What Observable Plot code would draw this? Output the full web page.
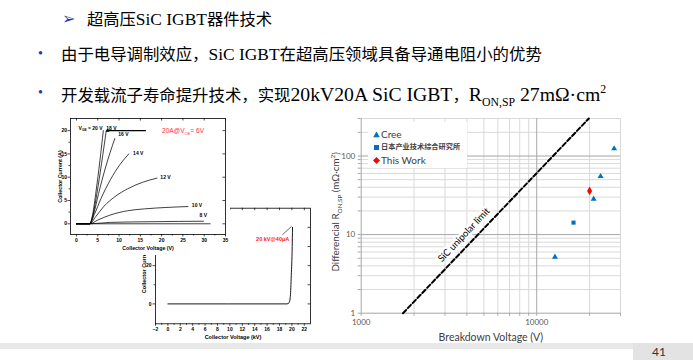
<!DOCTYPE html>
<html><head><meta charset="utf-8">
<script src="https://cdn.jsdelivr.net/npm/d3@7"></script>
<script src="https://cdn.jsdelivr.net/npm/@observablehq/plot@0.6"></script>
<style>
body{margin:0;background:#fff;}
#page{position:relative;width:693px;height:360px;overflow:hidden;background:#fff;font-family:"Liberation Serif","Noto Sans CJK SC",serif;}
.h{position:absolute;white-space:nowrap;line-height:1;color:#000;font-size:16.4px;}
.h .l{font-size:17.4px;}
.h .l2{font-size:19.7px;}
.h sub,.h sup{font-size:60%;line-height:0;}
.lg{position:absolute;white-space:nowrap;font-family:Lato,"Noto Sans CJK SC",sans-serif;color:#404040;line-height:1;}
</style></head>
<body><div id="page">
<div class="h" style="left:62px;top:11px;font-size:16px;color:#1c3ca8;font-family:'DejaVu Sans'">➢</div>
<div class="h" style="left:87px;top:11px;font-size:16.3px">超高压<span class="l">SiC IGBT</span>器件技术</div>
<div class="h" style="left:38px;top:47px;font-size:14px;color:#1c3ca8">•</div>
<div class="h" style="left:61px;top:46px">由于电导调制效应，<span class="l">SiC IGBT</span>在超高压领域具备导通电阻小的优势</div>
<div class="h" style="left:38px;top:86px;font-size:14px;color:#1c3ca8">•</div>
<div class="h" style="left:61px;top:85px">开发载流子寿命提升技术，实现<span class="l2">20kV20A SiC IGBT</span>，<span class="l2">R<sub>ON,SP</sub> 27mΩ·cm<sup>2</sup></span></div>
<div style="position:absolute;left:0;top:343px;width:633px;height:6px;background:#e8e8e8"></div>
<div style="position:absolute;left:633px;top:343px;width:60px;height:17px;background:#e3e3e3"></div>
<div class="h" style="left:652px;top:346px;font-size:12px;color:#333;font-family:Lato,sans-serif">41</div>
</div>
<script>
// ---------- right chart data ----------
const xMajor = [1000, 10000];
const xMinor = [2000, 3000, 4000, 5000, 6000, 7000, 8000, 9000, 20000, 30000];
const yMajor = [1, 10, 100];
const yMinor = [2, 3, 4, 5, 6, 7, 8, 9, 20, 30, 40, 50, 60, 70, 80, 90, 200, 300];
const creeBV = [12700, 21100, 23100, 27600];
const creeR = [5.2, 28.4, 55, 124];
const aistBV = [16200];
const aistR = [14.2];
const thisBV = [20000];
const thisR = [36];
const limitBV = [1730, 19800];
const limitR = [1, 300];
const limitLabelBV = [3850];
const limitLabelR = [9.9];
const seriesNames = ["Cree", "日本产业技术综合研究所", "This Work"];

// ---------- inset A (output characteristics) ----------
const vge20 = [[0,0],[3.1,0],[3.8,2],[4.6,7],[5.5,13.5],[6.3,20]];
const vge18 = [[0,0],[3.1,0],[3.9,2],[4.8,6.5],[5.9,13],[7.0,20]];
const vge16 = [[0,0],[3.1,0],[4.0,2],[5.2,6.5],[6.8,12],[9.0,18.3]];
const vge14 = [[0,0],[3.1,0],[4.2,2],[5.8,5.5],[8.0,9.5],[10.2,12.7],[12.3,15]];
const vge12 = [[0,0],[3.1,0],[4.5,1.5],[6.5,3.8],[9,5.8],[12,7.5],[15.5,8.9],[18.9,9.8]];
const vge10 = [[0,0],[3.1,0],[5,0.8],[8,1.9],[12,2.8],[16,3.2],[21,3.5],[26.2,3.7]];
const vge8 = [[0,0],[3.1,0],[8,0.3],[18,0.45],[29.8,0.55]];
const vge6 = [[0,0],[31.4,0]];
const ref20A = [[7.3,20],[16.2,20]];
const aLabels = [
  {v:0.5, i:20.5, t:"V_{GE} = 20 V"}, {v:7.0, i:20.4, t:"18 V"}, {v:9.8, i:19.1, t:"16 V"},
  {v:13.3, i:15.2, t:"14 V"}, {v:19.7, i:10.0, t:"12 V"}, {v:27.1, i:3.9, t:"10 V"}, {v:28.9, i:1.8, t:"8 V"}
];
const aNote = [{v:20.1, i:20, t:"20A@V_{CE}= 6V"}];
const aTicksX = [0,5,10,15,20,25,30,35];
const aMinorX = [2.5,7.5,12.5,17.5,22.5,27.5,32.5];
const aTicksY = [0,5,10,15,20];
const aMinorY = [2.5,7.5,12.5,17.5];

// ---------- inset B (blocking) ----------
const bvCurve = [[0,0],[19.2,0],[19.55,0.6],[19.75,4],[19.9,15],[20.05,30],[20.1,40]];
const bNote = [{v:16.9, i:34, t:"20 kV@40μA"}];
const bLeader = [[18.5,36.2],[19.9,40.4]];
const bTicksX = [-2,0,2,4,6,8,10,12,14,16,18,20,22];
const bMinorX = [-1,1,3,5,7,9,11,13,15,17,19,21];
const bTicksY = [0,20,40];
const bMinorY = [10,30];

const page = document.getElementById("page");

function rich(root){
  const ns = "http://www.w3.org/2000/svg";
  root.querySelectorAll("text").forEach(t => {
    const s = t.textContent;
    if (!/[_^]\{/.test(s)) return;
    const fs = parseFloat(getComputedStyle(t).fontSize) || 10;
    while (t.firstChild) t.removeChild(t.firstChild);
    const re = /([_^])\{([^}]*)\}/g; let last = 0, m, pend = 0;
    const add = (txt, dy, small) => {
      const sp = document.createElementNS(ns, "tspan");
      sp.textContent = txt;
      if (dy) sp.setAttribute("dy", dy);
      if (small) sp.setAttribute("font-size", (fs * 0.65).toFixed(2));
      t.appendChild(sp);
    };
    while ((m = re.exec(s))) {
      if (m.index > last) { add(s.slice(last, m.index), pend); pend = 0; }
      const d = m[1] === "_" ? fs * 0.28 : -fs * 0.4;
      add(m[2], d + pend, true); pend = -d;
      last = re.lastIndex;
    }
    if (last < s.length) add(s.slice(last), pend);
  });
}
function place(el, left, top){
  el.style.position = "absolute"; el.style.left = left + "px"; el.style.top = top + "px";
  page.appendChild(el); rich(el);
}
const pts = (arr, g) => arr.map(([v,i]) => ({v, i, g}));
const title = {textAnchor:"middle", lineAnchor:"middle"};

// ---------- inset B ----------
const bFont = {fontFamily:"'Liberation Sans', Arial, sans-serif", fontSize:"5px", fontWeight:"bold", background:"transparent", color:"#000", overflow:"visible"};
const B = Plot.plot({
  width:183, height:145, marginLeft:25, marginRight:3, marginTop:7.7, marginBottom:21.7,
  style: bFont,
  x:{domain:[-2,23]}, y:{domain:[-10.4,50]},
  marks:[
    Plot.frame({stroke:"#000", strokeWidth:0.8}),
    Plot.axisX({ticks:bTicksX, tickSize:2.5, tickPadding:1.5, label:null, strokeWidth:0.7}),
    Plot.axisX({ticks:bMinorX, tickSize:1.5, tickFormat:()=>"", label:null, strokeWidth:0.7}),
    Plot.axisY({ticks:bTicksY, tickSize:2.5, tickPadding:1.5, label:null, strokeWidth:0.7}),
    Plot.axisY({ticks:bMinorY, tickSize:1.5, tickFormat:()=>"", label:null, strokeWidth:0.7}),
    Plot.ruleX(bTicksX, {y1:50, y2:48.7, stroke:"#000", strokeWidth:0.7}),
    Plot.ruleY([...bTicksY, ...bMinorY], {x1:23, x2:22.6, stroke:"#000", strokeWidth:0.7}),
    Plot.line(pts(bvCurve,"b"), {x:"v", y:"i", stroke:"#000", strokeWidth:0.9, curve:"monotone-x"}),
    Plot.line(pts(bLeader,"l"), {x:"v", y:"i", stroke:"#000", strokeWidth:0.6}),
    Plot.text(bNote, {x:"v", y:"i", text:"t", fill:"#ff2020", fontSize:5.5}),
    Plot.text(["Collector Voltage (kV)"], {...title, frameAnchor:"bottom", dy:13.4, fontSize:5.5}),
    Plot.text(["Collector Current (A)"], {...title, frameAnchor:"left", dx:-11, dy:0, rotate:-90, fontSize:5.5})
  ]
});
place(B, 130, 200);

// ---------- inset A ----------
const A = Plot.plot({
  width:175, height:141, marginLeft:15, marginRight:5, marginTop:4, marginBottom:21,
  style:{...bFont, background:"white"},
  x:{domain:[-1.4,35]}, y:{domain:[-2.3,22.6]},
  marks:[
    Plot.frame({stroke:"#000", strokeWidth:0.8}),
    Plot.axisX({ticks:aTicksX, tickSize:2.5, tickPadding:1.5, label:null, strokeWidth:0.7}),
    Plot.axisX({ticks:aMinorX, tickSize:1.5, tickFormat:()=>"", label:null, strokeWidth:0.7}),
    Plot.axisY({ticks:aTicksY, tickSize:2.5, tickPadding:1, label:null, strokeWidth:0.7}),
    Plot.axisY({ticks:aMinorY, tickSize:1.5, tickFormat:()=>"", label:null, strokeWidth:0.7}),
    Plot.ruleX(aTicksX, {y1:22.6, y2:22.05, stroke:"#000", strokeWidth:0.7}),
    Plot.ruleY(aTicksY, {x1:35, x2:34.4, stroke:"#000", strokeWidth:0.7}),
    Plot.line([...pts(vge20,"20"),...pts(vge18,"18"),...pts(vge16,"16"),...pts(vge14,"14"),
               ...pts(vge12,"12"),...pts(vge10,"10"),...pts(vge8,"8"),...pts(vge6,"6")],
      {x:"v", y:"i", z:"g", stroke:"#000", strokeWidth:0.75, curve:"monotone-x"}),
    Plot.line(pts(ref20A,"r"), {x:"v", y:"i", stroke:"#000", strokeWidth:1.4}),
    Plot.dot(pts([ref20A[0]],"m"), {x:"v", y:"i", symbol:"triangle", r:1.4, fill:"#000"}),
    Plot.text(aLabels, {x:"v", y:"i", text:"t", textAnchor:"start", fontSize:5}),
    Plot.text(aNote, {x:"v", y:"i", text:"t", textAnchor:"start", fill:"#ff3030", fontSize:6.5, fontWeight:"normal"}),
    Plot.text(["Collector Voltage (V)"], {...title, frameAnchor:"bottom", dy:14, fontSize:5.3}),
    Plot.text(["Collector Current (A)"], {...title, frameAnchor:"left", dx:-10, rotate:-90, fontSize:5.3})
  ]
});
place(A, 55, 114);

// ---------- main log-log chart ----------
const cree = creeBV.map((v,i) => ({bv:v, r:creeR[i]}));
const aist = aistBV.map((v,i) => ({bv:v, r:aistR[i]}));
const mine = thisBV.map((v,i) => ({bv:v, r:thisR[i]}));
const limit = limitBV.map((v,i) => ({bv:v, r:limitR[i]}));
const limitLabel = limitLabelBV.map((v,i) => ({bv:v, r:limitLabelR[i], t:"SiC unipolar limit"}));
const C = Plot.plot({
  width:306, height:236, marginLeft:38.7, marginRight:8, marginTop:5, marginBottom:36.3,
  style:{fontFamily:"Lato, 'Noto Sans CJK SC', sans-serif", fontSize:"8px", color:"#595959", background:"transparent", overflow:"visible"},
  x:{type:"log", domain:[1000,30000]},
  y:{type:"log", domain:[1,300]},
  marks:[
    Plot.ruleX(xMinor, {stroke:"#d9d9d9"}),
    Plot.ruleY(yMinor, {stroke:"#d9d9d9"}),
    Plot.ruleX(xMajor, {stroke:"#a6a6a6"}),
    Plot.ruleY(yMajor, {stroke:"#a6a6a6"}),
    Plot.axisX({ticks:[...xMajor,...xMinor], tickSize:3, tickPadding:3, tickFormat:d => xMajor.includes(d) ? String(d) : "", label:null, stroke:"#a6a6a6"}),
    Plot.axisY({ticks:[...yMajor,...yMinor], tickSize:3, tickPadding:3, tickFormat:d => yMajor.includes(d) ? String(d) : "", label:null, stroke:"#a6a6a6"}),
    Plot.text(limitLabel, {x:"bv", y:"r", text:"t", rotate:-46.6, fill:"#000", fontSize:9.5, stroke:"white", strokeWidth:5}),
    Plot.line(limit, {x:"bv", y:"r", stroke:"#000", strokeWidth:2, strokeDasharray:"4.5,2.5"}),
    Plot.dot(cree, {x:"bv", y:"r", symbol:"triangle", r:2.2, fill:"#0070c0"}),
    Plot.dot(aist, {x:"bv", y:"r", symbol:"square", r:2.3, fill:"#0070c0"}),
    Plot.dot(mine, {x:"bv", y:"r", symbol:"diamond", r:2.6, fill:"#ff0000"}),
    Plot.text(["Breakdown Voltage (V)"], {...title, frameAnchor:"bottom", dy:24.5, fontSize:10.5, fill:"#404040"}),
    Plot.text(["Differencial R_{ON,SP} (mΩ·cm^{2})"], {...title, frameAnchor:"left", dx:-25, dy:-4, rotate:-90, fontSize:9.8, fill:"#404040"})
  ]
});
place(C, 322, 113);

// legend
const lg = document.createElement("div");
lg.style.cssText = "position:absolute;left:368px;top:122px;width:99px;height:46px;background:#fff";
page.appendChild(lg);
const sym = [
  '<svg width="7" height="7" style="position:absolute;left:5px;top:9px"><polygon points="3.5,0.5 6.8,6.3 0.2,6.3" fill="#0070c0"/></svg>',
  '<svg width="7" height="7" style="position:absolute;left:5px;top:22px"><rect x="1" y="1" width="5" height="5" fill="#0070c0"/></svg>',
  '<svg width="7" height="7" style="position:absolute;left:5px;top:35px"><polygon points="3.5,0 7,3.5 3.5,7 0,3.5" fill="#ff0000"/></svg>'
];
lg.innerHTML = sym.join("") +
  `<div class="lg" style="left:13px;top:7px;font-size:10px">${seriesNames[0]}</div>` +
  `<div class="lg" style="left:13px;top:21px;font-size:7.2px;font-weight:bold">${seriesNames[1]}</div>` +
  `<div class="lg" style="left:13px;top:33px;font-size:10px">${seriesNames[2]}</div>`;
</script>
</body></html>
